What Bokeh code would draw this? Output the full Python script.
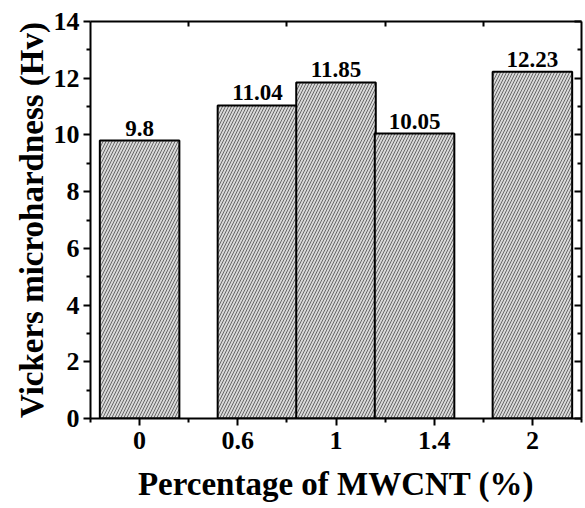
from bokeh.plotting import figure
from bokeh.models import ColumnDataSource, FixedTicker, LinearAxis, Range1d
from bokeh.core.properties import value
from bokeh.embed import file_html
from bokeh.resources import INLINE

# ---- data ----
categories = ["0", "0.6", "1", "1.4", "2"]
hardness = [9.8, 11.04, 11.85, 10.05, 12.23]
value_labels = ["9.8", "11.04", "11.85", "10.05", "12.23"]
y_ticks = [0, 2, 4, 6, 8, 10, 12, 14]

# ---- layout (slot index plus a small shift of the drawn bar) ----
bar_shift = [0.0, 0.2, 0.0, -0.2, 0.0]
slots = list(range(len(categories)))
xpos = [i + s for i, s in zip(slots, bar_shift)]

src = ColumnDataSource(dict(x=xpos, top=hardness, lab=value_labels))

FONT = "Liberation Serif"

p = figure(width=585, height=508, output_backend="svg", toolbar_location=None,
           x_range=Range1d(-0.5, len(categories) - 0.5), y_range=Range1d(0, 14),
           min_border_left=90, min_border_right=4, min_border_top=21, min_border_bottom=90)
p.grid.visible = False
p.outline_line_color = None
p.background_fill_color = "white"

p.vbar(x="x", top="top", bottom=0, width=0.81, source=src,
       fill_color="#d8d8d8", line_color="black", line_width=2,
       hatch_pattern="/", hatch_color="#666666", hatch_scale=6, hatch_weight=1)

p.text(x="x", y="top", text="lab", source=src, text_align="center", text_baseline="bottom",
       y_offset=-5, text_font=value(FONT), text_font_style="bold", text_font_size="23px",
       text_color="black")

# bottom axis
xa = p.xaxis[0]
xa.ticker = FixedTicker(ticks=slots, minor_ticks=[i + 0.5 for i in range(-1, len(categories))])
xa.major_label_overrides = {i: c for i, c in zip(slots, categories)}
xa.axis_label = "Percentage of MWCNT (%)"

# left axis
ya = p.yaxis[0]
ya.ticker = FixedTicker(ticks=y_ticks, minor_ticks=list(range(1, 14, 2)))
ya.axis_label = "Vickers microhardness (Hv)"

for ax in (xa, ya):
    ax.axis_line_width = 2
    ax.axis_line_color = "black"
    ax.major_tick_line_width = 2
    ax.minor_tick_line_width = 2
    ax.major_tick_out = 7
    ax.major_tick_in = 0
    ax.minor_tick_out = 4
    ax.minor_tick_in = 0
    ax.major_label_text_font = FONT
    ax.major_label_text_font_style = "bold"
    ax.major_label_text_font_size = "26px"
    ax.major_label_text_color = "black"
    ax.axis_label_text_font = FONT
    ax.axis_label_text_font_style = "bold"
    ax.axis_label_text_font_size = "33px"
    ax.axis_label_text_color = "black"

xa.major_label_standoff = 6
xa.axis_label_standoff = 14
ya.major_label_standoff = 4
ya.axis_label_standoff = 1

# top axis (ticks inward, no labels)
top_ticks = [i + 0.5 for i in range(len(categories) - 1)]
ta = LinearAxis(ticker=FixedTicker(ticks=top_ticks),
                major_label_overrides={t: "" for t in top_ticks},
                major_label_standoff=0, axis_line_width=2,
                major_tick_in=5, major_tick_out=0, major_tick_line_width=2,
                minor_tick_line_color=None)
p.add_layout(ta, "above")

# right axis (ticks inward, no labels)
ra = LinearAxis(ticker=FixedTicker(ticks=y_ticks, minor_ticks=list(range(1, 14, 2))),
                major_label_overrides={t: "" for t in y_ticks},
                major_label_standoff=0, axis_line_width=2,
                major_tick_in=7, major_tick_out=0, major_tick_line_width=2,
                minor_tick_in=4, minor_tick_out=0, minor_tick_line_width=2)
p.add_layout(ra, "right")

open("out.html", "w").write(file_html(p, INLINE))
